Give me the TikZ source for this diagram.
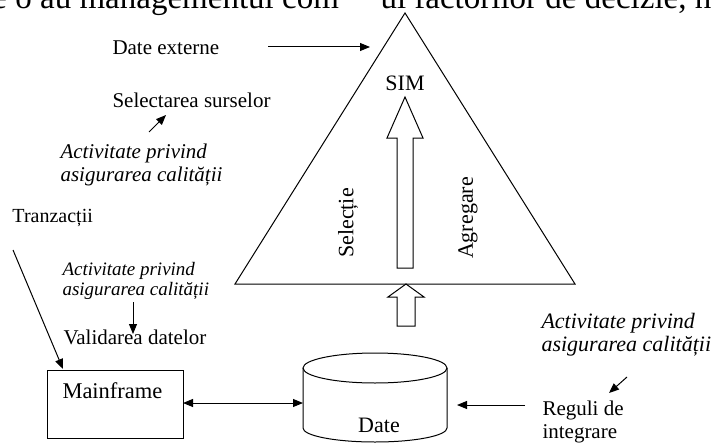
\documentclass[tikz,border=0pt]{standalone}
\usepackage{fontspec}
\setmainfont{Liberation Serif}
\usetikzlibrary{arrows.meta}
\begin{document}
\begin{tikzpicture}[x=1pt,y=-1pt,line width=1pt,
  >={Triangle[length=10pt,width=8pt]},
  lbl/.style={inner sep=0pt,anchor=base west,font=\fontsize{21}{24}\selectfont},
  qa/.style={inner sep=0pt,anchor=base west,font=\fontsize{21}{24}\selectfont\itshape},
  qb/.style={inner sep=0pt,anchor=base west,font=\fontsize{19}{22}\selectfont\itshape},
  qc/.style={inner sep=0pt,anchor=base west,font=\fontsize{22}{25}\selectfont\itshape},
  big/.style={inner sep=0pt,anchor=base west,font=\fontsize{33}{36}\selectfont},
  side/.style={inner sep=0pt,font=\fontsize{22}{25}\selectfont,rotate=90},
  hollow/.style={draw,fill=white,line join=miter}]
\useasboundingbox (0,0) rectangle (715,444);
\clip (0,0) rectangle (715,444);
% cut-off text line at the top
\node[big] (topl) at (-8,8.5) {e o au managementul com};
\node[big] (topr) at (380,8.5) {ul factorilor de decizie, n};
% triangle SIM
\coordinate (apex) at (405,13);
\coordinate (bl) at (235,284);
\coordinate (br) at (575,284);
\draw[line join=miter] (apex) -- (bl) -- (br) -- cycle;
\node[inner sep=0pt,anchor=base,font=\fontsize{22}{25}\selectfont] (sim) at (405,91) {SIM};
\node[side] (sel) at (348,223) {Selecție};
\node[side] (agr) at (468,218) {Agregare};
\draw[hollow] (397,268) -- (397,138) -- (387,138) -- (405,97) -- (423,138) -- (413,138) -- (413,268) -- cycle;
\draw[hollow] (397,326) -- (397,297) -- (388,297) -- (406,284) -- (424,297) -- (415,297) -- (415,326) -- cycle;
% date externe
\node[lbl] (dext) at (112,55) {Date externe};
\coordinate (dextA) at (268,47);
\coordinate (dextB) at (370,47);
\draw[->] (dextA) -- (dextB);
% selectarea surselor
\node[lbl] (sels) at (112,107) {Selectarea surselor};
\node[qa] (q1a) at (60,158) {Activitate privind};
\node[qa] (q1b) at (60,181) {asigurarea calității};
\coordinate (s1A) at (149,132);
\coordinate (s1B) at (166,115);
\draw[->] (s1A) -- (s1B);
% tranzactii
\node[lbl,font=\fontsize{20}{23}\selectfont] (tr) at (12,222) {Tranzacții};
\coordinate (trA) at (13,250);
\node[qb] (q2a) at (62,275) {Activitate privind};
\node[qb] (q2b) at (62,295) {asigurarea calității};
\coordinate (v1A) at (133,302);
\coordinate (v1B) at (133,334);
\draw[->] (v1A) -- (v1B);
\node[lbl] (val) at (63,344) {Validarea datelor};
% mainframe
\node[draw,minimum width=136pt,minimum height=68pt,anchor=north west,inner sep=0pt] (mf) at (47,370) {};
\node[lbl,font=\fontsize{22.5}{25}\selectfont] (mft) at (62,398) {Mainframe};
\coordinate (trB) at (63,369);
\draw[->] (trA) -- (trB);
% cylinder Date
\draw (303,368) -- (303,428) arc[start angle=180,end angle=0,x radius=72,y radius=14] -- (447,368);
\draw (375,368) ellipse[x radius=72,y radius=15];
\node[inner sep=0pt,anchor=base,font=\fontsize{22}{25}\selectfont] (date) at (379,432) {Date};
\coordinate (mfE) at (183,403);
\coordinate (cylW) at (303,403);
\draw[<->] (mfE) -- (cylW);
% reguli de integrare
\node[qc] (q3a) at (541,328) {Activitate privind};
\node[qc] (q3b) at (541,351) {asigurarea calității};
\coordinate (r1A) at (627,377);
\coordinate (r1B) at (609,393);
\draw[->] (r1A) -- (r1B);
\node[lbl] (reg1) at (542,415) {Reguli de};
\node[lbl] (reg2) at (542,438) {integrare};
\coordinate (regA) at (525,405);
\coordinate (cylE) at (457,405);
\draw[->] (regA) -- (cylE);
\end{tikzpicture}
\end{document}
